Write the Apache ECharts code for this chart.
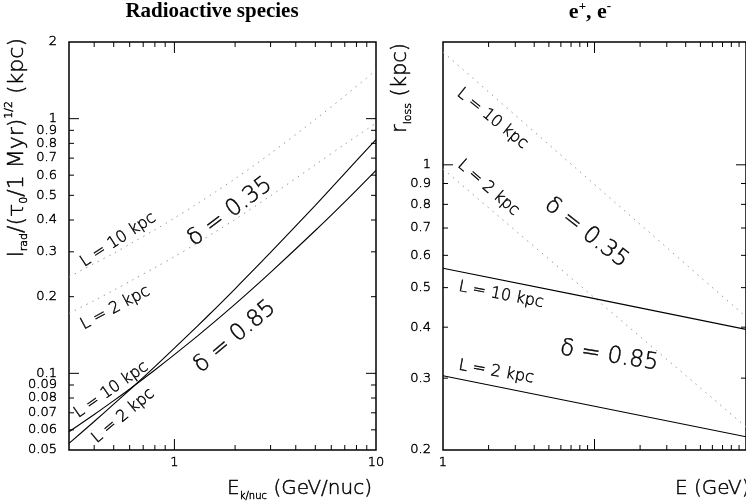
<!DOCTYPE html>
<html><head><meta charset="utf-8">
<script src="https://cdn.jsdelivr.net/npm/echarts@6/dist/echarts.min.js"></script>
<style>html,body{margin:0;padding:0;background:#fff}#c{width:746px;height:504px}</style>
</head><body><div id="c"></div>
<script>
// ---------- DATA ----------
// Left panel: radioactive species, l_rad vs kinetic energy per nucleon
const energyLeft = [0.3, 0.4, 0.5, 0.61, 0.8, 1, 1.3, 1.6, 2, 3, 5, 7, 10];
const radDelta035L10 = [0.239, 0.270, 0.296, 0.324, 0.366, 0.407, 0.464, 0.516, 0.581, 0.730, 0.993, 1.228, 1.550];
const radDelta035L2  = [0.172, 0.193, 0.212, 0.231, 0.260, 0.287, 0.325, 0.360, 0.402, 0.498, 0.659, 0.793, 0.960];
const radDelta085L10 = [0.059, 0.0689, 0.0781, 0.0876, 0.1031, 0.1184, 0.140, 0.1606, 0.1869, 0.2493, 0.3638, 0.4714, 0.627];
const radDelta085L2  = [0.0531, 0.0647, 0.0757, 0.0872, 0.1063, 0.1255, 0.1532, 0.180, 0.2147, 0.2982, 0.4569, 0.6096, 0.828];
// Right panel: e+, e-, r_loss vs energy
const energyRight = [1, 10, 100];
const lossDelta035L10 = [1.89, 0.895, 0.424];
const lossDelta035L2  = [0.977, 0.472, 0.228];
const lossDelta085L10 = [0.558, 0.470, 0.395];
const lossDelta085L2  = [0.304, 0.256, 0.2155];
// Ticks and labels
const leftYTicks = [0.05,0.06,0.07,0.08,0.09,0.1,0.2,0.3,0.4,0.5,0.6,0.7,0.8,0.9,1,2];
const leftYTickLabels = ['0.05','0.06','0.07','0.08','0.09','0.1','0.2','0.3','0.4','0.5','0.6','0.7','0.8','0.9','1','2'];
const leftXTicks = [0.3,0.4,0.5,0.6,0.7,0.8,0.9,1,2,3,4,5,6,7,8,9,10];
const leftXTickLabels = ['','','','','','','','1','','','','','','','','','10'];
const rightYTicks = [0.2,0.3,0.4,0.5,0.6,0.7,0.8,0.9,1];
const rightYTickLabels = ['0.2','0.3','0.4','0.5','0.6','0.7','0.8','0.9','1'];
const rightXTicks = [1,2,3,4,5,6,7,8,9,10,20,30,40,50,60,70,80,90,100];
const rightXTickLabels = ['1','','','','','','','','','','','','','','','','','',''];
const titles = ['Radioactive species', 'e+, e-'];
const annotationTexts = ['L = 10 kpc','δ = 0.35','L = 2 kpc','δ = 0.85','L = 10 kpc','L = 2 kpc',
                         'L = 10 kpc','L = 2 kpc','δ = 0.35','L = 10 kpc','δ = 0.85','L = 2 kpc'];

// ---------- LAYOUT ----------
const FONT = '"DejaVu Sans", "Liberation Sans", Arial, sans-serif';
const FW = 200;
const SERIF = '"Liberation Serif", "Times New Roman", serif';
const INK = {fill:'#000', stroke:'#000', lineWidth:0.45};
const leftX = [0.3, 10], leftY = [0.05, 2];
const rightX = [1, 100], rightY = [0.2, 2];
const annLayout = [
  {p:0, E:0.526, v:0.334, rot:33, size:16},
  {p:0, E:1.887, v:0.430, rot:37, size:23},
  {p:0, E:0.509, v:0.1805, rot:28, size:16},
  {p:0, E:1.998, v:0.139, rot:40, size:23},
  {p:0, E:0.486, v:0.0861, rot:35, size:16},
  {p:0, E:0.557, v:0.068, rot:40, size:16},
  {p:1, E:2.113, v:1.297, rot:-39, size:16},
  {p:1, E:1.99, v:0.878, rot:-41, size:16},
  {p:1, E:8.83, v:0.681, rot:-38, size:23},
  {p:1, E:2.419, v:0.48, rot:-11, size:16},
  {p:1, E:12.48, v:0.34, rot:-9, size:23},
  {p:1, E:2.244, v:0.3107, rot:-10, size:16}
];

function isMajor(v){ const l = Math.log10(v); return Math.abs(l - Math.round(l)) < 1e-9; }
function font(size){ return FW + ' ' + size + 'px ' + FONT; }

function yTickSeries(idx, ticks, labels, xr, yr){
  return {
    type:'custom', xAxisIndex:idx, yAxisIndex:idx, silent:true, clip:false, z:5,
    data: ticks.map(v => [xr[0], v]),
    renderItem(params, api){
      const v = api.value(1);
      const p0 = api.coord([xr[0], v]), p1 = api.coord([xr[1], v]);
      const len = isMajor(v) ? 10 : 5;
      const ch = [];
      if (v !== yr[0] && v !== yr[1]) {
        ch.push({type:'line', shape:{x1:p0[0], y1:p0[1], x2:p0[0]+len, y2:p0[1]}, style:{stroke:'#000', lineWidth:1}});
        ch.push({type:'line', shape:{x1:p1[0], y1:p1[1], x2:p1[0]-len, y2:p1[1]}, style:{stroke:'#000', lineWidth:1}});
      }
      const lab = labels[params.dataIndex];
      if (lab) ch.push({type:'text', x:p0[0]-12, y:p0[1], style:Object.assign({text:lab, font:font(13), align:'right', verticalAlign:'middle'}, INK)});
      return {type:'group', children:ch};
    }
  };
}
function xTickSeries(idx, ticks, labels, xr, yr){
  return {
    type:'custom', xAxisIndex:idx, yAxisIndex:idx, silent:true, clip:false, z:5,
    data: ticks.map(e => [e, yr[0]]),
    renderItem(params, api){
      const e = api.value(0);
      const p0 = api.coord([e, yr[0]]), p1 = api.coord([e, yr[1]]);
      const len = isMajor(e) ? 11 : 5;
      const ch = [];
      if (e !== xr[0] && e !== xr[1]) {
        ch.push({type:'line', shape:{x1:p0[0], y1:p0[1], x2:p0[0], y2:p0[1]-len}, style:{stroke:'#000', lineWidth:1}});
        ch.push({type:'line', shape:{x1:p1[0], y1:p1[1], x2:p1[0], y2:p1[1]+len}, style:{stroke:'#000', lineWidth:1}});
      }
      const lab = labels[params.dataIndex];
      if (lab) ch.push({type:'text', x:p0[0], y:p0[1]+6, style:Object.assign({text:lab, font:font(13), align:'center', verticalAlign:'top'}, INK)});
      return {type:'group', children:ch};
    }
  };
}
function annSeries(idx){
  const items = annLayout.map((a,i)=>Object.assign({text:annotationTexts[i]}, a)).filter(a=>a.p===idx);
  return {
    type:'custom', xAxisIndex:idx, yAxisIndex:idx, silent:true, clip:false, z:6,
    data: items.map(a => [a.E, a.v]),
    renderItem(params, api){
      const a = items[params.dataIndex];
      const p = api.coord([api.value(0), api.value(1)]);
      return {type:'text', x:p[0], y:p[1], rotation:a.rot*Math.PI/180,
        style:Object.assign({text:a.text, font:font(a.size), align:'center', verticalAlign:'middle'}, INK)};
    }
  };
}
function pairs(xs, ys){ return xs.map((x,i)=>[x, ys[i]]); }
const solid = {color:'#000', width:1.1, type:'solid'};
const dotted = {color:'#999', width:1, type:[1.5,5]};
function lineSeries(idx, xs, ys, style, smooth){
  return {type:'line', xAxisIndex:idx, yAxisIndex:idx, data:pairs(xs, ys), showSymbol:false, symbol:'none',
    smooth:smooth, lineStyle:style, silent:true, z:3, clip:true};
}
const hiddenAxis = {axisLine:{show:false}, axisTick:{show:false}, axisLabel:{show:false}, splitLine:{show:false}};
const rm = {fontFamily:FONT, fontWeight:FW, fill:'#000', stroke:'#000', lineWidth:0.45};

const option = {
  animation:false,
  backgroundColor:'#fff',
  grid:[
    {left:69, top:42, width:307, height:408, show:true, borderColor:'#000', borderWidth:1.5, backgroundColor:'transparent'},
    {left:443, top:42, width:306, height:408, show:true, borderColor:'#000', borderWidth:1.5, backgroundColor:'transparent'}
  ],
  xAxis:[
    Object.assign({type:'log', logBase:10, gridIndex:0, min:leftX[0], max:leftX[1]}, hiddenAxis),
    Object.assign({type:'log', logBase:10, gridIndex:1, min:rightX[0], max:rightX[1]}, hiddenAxis)
  ],
  yAxis:[
    Object.assign({type:'log', logBase:10, gridIndex:0, min:leftY[0], max:leftY[1]}, hiddenAxis),
    Object.assign({type:'log', logBase:10, gridIndex:1, min:rightY[0], max:rightY[1]}, hiddenAxis)
  ],
  series:[
    lineSeries(0, energyLeft, radDelta035L10, dotted, 0.3),
    lineSeries(0, energyLeft, radDelta035L2, dotted, 0.3),
    lineSeries(0, energyLeft, radDelta085L10, solid, 0.3),
    lineSeries(0, energyLeft, radDelta085L2, solid, 0.3),
    lineSeries(1, energyRight, lossDelta035L10, dotted, false),
    lineSeries(1, energyRight, lossDelta035L2, dotted, false),
    lineSeries(1, energyRight, lossDelta085L10, solid, false),
    lineSeries(1, energyRight, lossDelta085L2, solid, false),
    yTickSeries(0, leftYTicks, leftYTickLabels, leftX, leftY),
    xTickSeries(0, leftXTicks, leftXTickLabels, leftX, leftY),
    yTickSeries(1, rightYTicks, rightYTickLabels, rightX, rightY),
    xTickSeries(1, rightXTicks, rightXTickLabels, rightX, rightY),
    annSeries(0),
    annSeries(1)
  ],
  graphic:[
    {type:'text', x:212, y:12, style:{text:titles[0], fontFamily:SERIF, fontWeight:'bold', fontSize:21, fill:'#000', align:'center', verticalAlign:'middle'}},
    {type:'text', x:590, y:12, style:{text:'{b|e}{p|+}{b|, e}{p|-}', align:'center', verticalAlign:'middle', fill:'#000',
      rich:{b:{fontFamily:SERIF, fontWeight:'bold', fontSize:22, lineHeight:24, fill:'#000'},
            p:{fontFamily:SERIF, fontWeight:'bold', fontSize:13, lineHeight:13, verticalAlign:'top', fill:'#000'}}}},
    {type:'text', x:372, y:489, style:{text:'{m|E}{s|k/nuc}{m| (GeV/nuc)}', align:'right', verticalAlign:'middle', fill:'#000',
      rich:{m:Object.assign({fontSize:20, lineHeight:24}, rm), s:Object.assign({fontSize:10, lineHeight:12, verticalAlign:'bottom'}, rm)}}},
    {type:'text', x:675, y:489, style:Object.assign({text:'E (GeV)', font:font(20), align:'left', verticalAlign:'middle'}, INK)},
    {type:'text', x:17, y:38, rotation:Math.PI/2, style:{text:'{m|l}{s|rad}{m|/(τ}{s|0}{m|/1 Myr)}{u|1/2}{m| (kpc)}', align:'right', verticalAlign:'middle', fill:'#000',
      rich:{m:Object.assign({fontSize:22, lineHeight:26}, rm), s:Object.assign({fontSize:11, lineHeight:13, verticalAlign:'bottom'}, rm), u:Object.assign({fontSize:11, lineHeight:13, verticalAlign:'top'}, rm)}}},
    {type:'text', x:401, y:43, rotation:Math.PI/2, style:{text:'{m|r}{s|loss}{m| (kpc)}', align:'right', verticalAlign:'middle', fill:'#000',
      rich:{m:Object.assign({fontSize:21, lineHeight:26}, rm), s:Object.assign({fontSize:11, lineHeight:13, verticalAlign:'bottom'}, rm)}}}
  ]
};
const chart = echarts.init(document.getElementById('c'), null, {renderer:'canvas'});
chart.setOption(option);
</script>
</body></html>
